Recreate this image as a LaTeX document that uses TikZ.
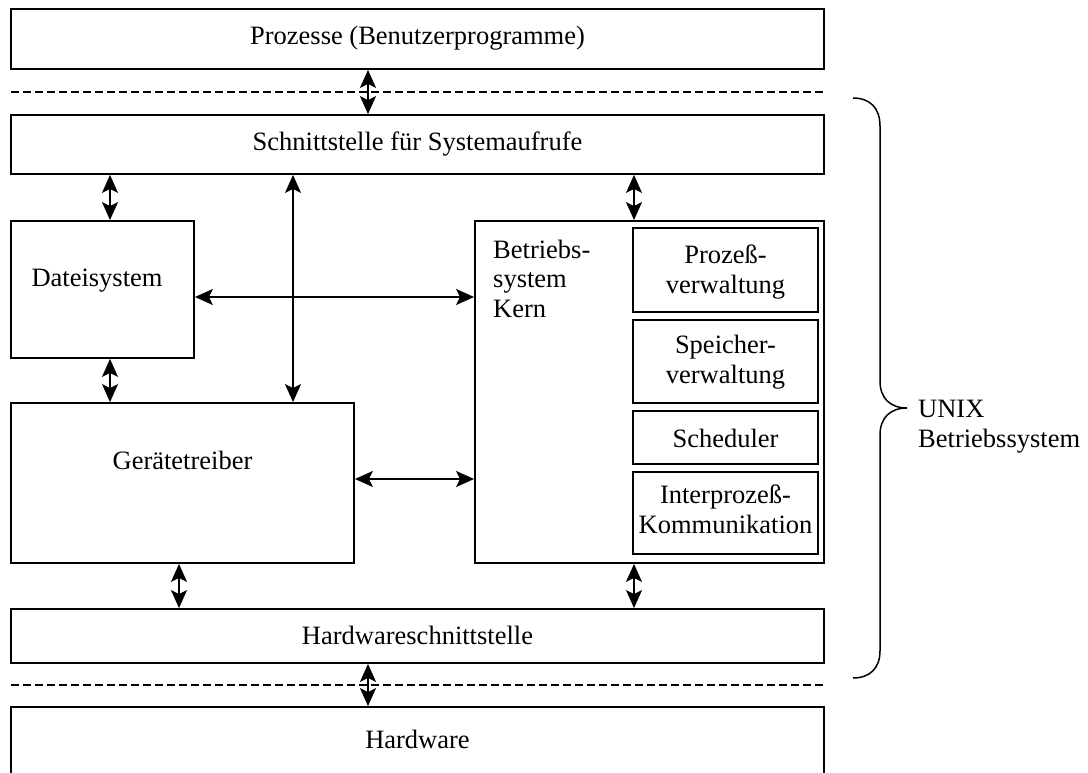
\documentclass[tikz,border=0pt]{standalone}
\usepackage{fontspec}
\setmainfont{Liberation Serif}
\usetikzlibrary{arrows.meta}
\begin{document}
\begin{tikzpicture}[x=1pt,y=-1pt,
  box/.style={draw, line width=1.8pt, inner sep=0pt, rectangle},
  lbl/.style={inner sep=0pt, font=\fontsize{26.5}{29.5}\selectfont, align=center},
  dbl/.style={line width=1.4pt,
    {Stealth[length=18pt,width=16pt,inset=4pt]}-{Stealth[length=18pt,width=16pt,inset=4pt]}},
  sepline/.style={line width=1.5pt, dash pattern=on 8pt off 4pt}]
\useasboundingbox (0,0) rectangle (1088,773);
\clip (0,0) rectangle (1088,773);

% layer boxes
\node[box, minimum width=813pt, minimum height=60pt] (proz) at (417.5,39) {};
\node[box, minimum width=813pt, minimum height=59pt] (sys)  at (417.5,144.5) {};
\node[box, minimum width=183pt, minimum height=137pt] (dat) at (102.5,289.5) {};
\node[box, minimum width=343pt, minimum height=160pt] (ger) at (182.5,483) {};
\node[box, minimum width=349pt, minimum height=342pt] (kern) at (649.5,392) {};
\node[box, minimum width=185pt, minimum height=84pt] (pv)  at (725.5,270) {};
\node[box, minimum width=185pt, minimum height=83pt] (sv)  at (725.5,361.5) {};
\node[box, minimum width=185pt, minimum height=53pt] (sch) at (725.5,437.5) {};
\node[box, minimum width=185pt, minimum height=82pt] (ipc) at (725.5,513) {};
\node[box, minimum width=813pt, minimum height=54pt] (hws) at (417.5,636) {};
\node[box, minimum width=813pt, minimum height=93pt] (hw)  at (417.5,753.5) {};

% texts (base anchor of a multi-line node sits on its last line)
\node[lbl, anchor=base] (prozT) at (417.5,45) {Prozesse (Benutzerprogramme)};
\node[lbl, anchor=base] (sysT) at (417.5,151) {Schnittstelle für Systemaufrufe};
\node[lbl, anchor=base] (datT) at (97,287) {Dateisystem};
\node[lbl, anchor=base] (gerT) at (182.5,469) {Gerätetreiber};
\node[lbl, anchor=base west, align=left] (kernT) at (493,317) {Betriebs-\\system\\Kern};
\node[lbl, anchor=base] (pvT) at (725.5,293) {Prozeß-\\verwaltung};
\node[lbl, anchor=base] (svT) at (725.5,383) {Speicher-\\verwaltung};
\node[lbl, anchor=base] (schT) at (725.5,447) {Scheduler};
\node[lbl, anchor=base] (ipcT) at (725.5,533) {Interprozeß-\\Kommunikation};
\node[lbl, anchor=base] (hwsT) at (417.5,644) {Hardwareschnittstelle};
\node[lbl, anchor=base] (hwT) at (417.5,748) {Hardware};
\node[lbl, anchor=base west, align=left] (unixT) at (918,447) {UNIX\\Betriebssystem};

% boundaries between user space, kernel and hardware
\coordinate (dl1) at (11,92);
\coordinate (dr1) at (824,92);
\coordinate (dl2) at (11,685);
\coordinate (dr2) at (824,685);
\draw[sepline] (dl1) -- (dr1);
\draw[sepline] (dl2) -- (dr2);

% connector columns and rows
\coordinate (cA) at (368,0);
\coordinate (cB) at (110,0);
\coordinate (cC) at (293,0);
\coordinate (cD) at (634,0);
\coordinate (cE) at (179,0);
\coordinate (rA) at (0,297);
\coordinate (rB) at (0,479);

\draw[dbl] (proz.south -| cA) -- (sys.north -| cA);
\draw[dbl] (sys.south -| cB) -- (dat.north -| cB);
\draw[dbl] (sys.south -| cC) -- (ger.north -| cC);
\draw[dbl] (sys.south -| cD) -- (kern.north -| cD);
\draw[dbl] (dat.east |- rA) -- (kern.west |- rA);
\draw[dbl] (dat.south -| cB) -- (ger.north -| cB);
\draw[dbl] (ger.east |- rB) -- (kern.west |- rB);
\draw[dbl] (ger.south -| cE) -- (hws.north -| cE);
\draw[dbl] (kern.south -| cD) -- (hws.north -| cD);
\draw[dbl] (hws.south -| cA) -- (hw.north -| cA);

% brace around the operating system layers
\draw[line width=1.5pt]
  (853,98) .. controls (870,98) and (880,108) .. (880,126)
  -- (880,381) .. controls (880,398) and (890,408) .. (907,408)
  .. controls (890,408) and (880,418) .. (880,435)
  -- (880,651) .. controls (880,668) and (870,678) .. (853,678);
\end{tikzpicture}
\end{document}
